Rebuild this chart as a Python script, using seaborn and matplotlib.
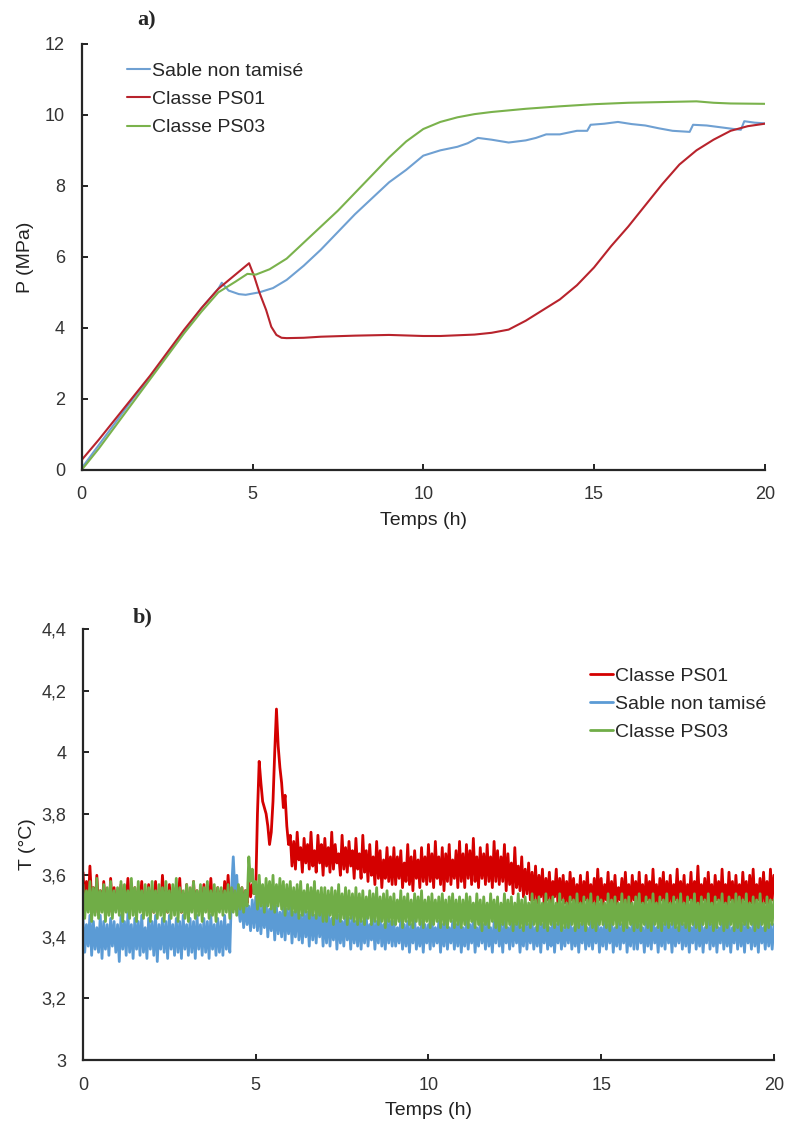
import numpy as np
import matplotlib
matplotlib.use("Agg")
import matplotlib.pyplot as plt
import seaborn as sns

# ---- a) pressure curves (h, MPa)
sable_t = [0, 0.5, 1, 1.5, 2, 2.5, 3, 3.5, 4, 4.1, 4.3, 4.6, 4.8, 5.2, 5.6, 6, 6.5, 7, 7.5, 8,
           8.5, 9, 9.5, 10, 10.5, 11, 11.3, 11.6, 12, 12.5, 13, 13.3, 13.6, 14, 14.5, 14.8, 14.9,
           15.3, 15.7, 16.1, 16.5, 16.9, 17.3, 17.8, 17.9, 18.3, 18.7, 19.1, 19.3, 19.4, 19.7, 20]
sable_p = [0.05, 0.7, 1.35, 2.0, 2.6, 3.25, 3.9, 4.55, 5.1, 5.27, 5.05, 4.95, 4.93, 5.0, 5.12,
           5.35, 5.75, 6.2, 6.7, 7.2, 7.65, 8.1, 8.45, 8.85, 9.0, 9.1, 9.2, 9.35, 9.3, 9.22, 9.28,
           9.35, 9.45, 9.45, 9.55, 9.55, 9.72, 9.75, 9.8, 9.74, 9.7, 9.62, 9.55, 9.52, 9.72, 9.7,
           9.65, 9.6, 9.58, 9.82, 9.78, 9.76]

ps01_t = [0, 0.5, 1, 1.5, 2, 2.5, 3, 3.5, 4, 4.5, 4.9, 5.05, 5.2, 5.4, 5.55, 5.7, 5.85, 6, 6.5,
          7, 8, 9, 10, 10.5, 11, 11.5, 12, 12.5, 13, 13.5, 14, 14.5, 15, 15.5, 16, 16.5, 17,
          17.5, 18, 18.5, 19, 19.5, 20]
ps01_p = [0.28, 0.85, 1.45, 2.05, 2.65, 3.3, 3.95, 4.55, 5.1, 5.5, 5.82, 5.45, 5.0, 4.5, 4.03,
          3.8, 3.72, 3.71, 3.72, 3.75, 3.78, 3.8, 3.77, 3.77, 3.79, 3.81, 3.86, 3.95, 4.2, 4.5,
          4.8, 5.2, 5.7, 6.3, 6.85, 7.45, 8.05, 8.6, 9.0, 9.3, 9.55, 9.68, 9.75]

ps03_t = [0, 0.5, 1, 1.5, 2, 2.5, 3, 3.5, 4, 4.5, 4.85, 5.1, 5.5, 6, 6.5, 7, 7.5, 8, 8.5, 9,
          9.5, 10, 10.5, 11, 11.5, 12, 13, 14, 15, 16, 17, 17.5, 18, 18.5, 19, 20]
ps03_p = [0.0, 0.6, 1.25, 1.9, 2.55, 3.2, 3.85, 4.45, 5.0, 5.3, 5.52, 5.5, 5.65, 5.95, 6.4,
          6.85, 7.3, 7.8, 8.3, 8.8, 9.25, 9.6, 9.8, 9.93, 10.02, 10.08, 10.17, 10.24, 10.3,
          10.34, 10.36, 10.37, 10.38, 10.34, 10.32, 10.31]

# ---- b) temperature, one reading every 0.05 h (°C), one row per hour
temp_t = np.round(np.arange(0, 20.001, 0.05), 2)

temp_ps01 = [
    3.61, 3.51, 3.58, 3.49, 3.63, 3.52, 3.56, 3.48, 3.60, 3.50, 3.55, 3.49, 3.58, 3.51, 3.54, 3.48, 3.59, 3.50, 3.56, 3.49,
    3.54, 3.50, 3.57, 3.48, 3.55, 3.51, 3.59, 3.49, 3.53, 3.50, 3.56, 3.48, 3.55, 3.51, 3.58, 3.49, 3.54, 3.50, 3.57, 3.49,
    3.55, 3.48, 3.58, 3.50, 3.54, 3.49, 3.60, 3.51, 3.55, 3.48, 3.57, 3.50, 3.53, 3.49, 3.56, 3.51, 3.59, 3.48, 3.54, 3.50,
    3.57, 3.49, 3.54, 3.51, 3.58, 3.48, 3.55, 3.50, 3.53, 3.49, 3.57, 3.51, 3.55, 3.48, 3.59, 3.50, 3.54, 3.49, 3.56, 3.51,
    3.55, 3.49, 3.58, 3.50, 3.60, 3.51, 3.55, 3.49, 3.57, 3.52, 3.54, 3.50, 3.56, 3.48, 3.55, 3.51, 3.58, 3.53, 3.57, 3.54,
    3.55, 3.80, 3.97, 3.90, 3.84, 3.82, 3.80, 3.76, 3.70, 3.74, 3.84, 4.00, 4.14, 4.02, 3.95, 3.90, 3.82, 3.86, 3.76, 3.70,
    3.73, 3.63, 3.71, 3.62, 3.74, 3.65, 3.69, 3.61, 3.72, 3.64, 3.70, 3.62, 3.74, 3.63, 3.68, 3.61, 3.73, 3.64, 3.70, 3.60,
    3.72, 3.63, 3.69, 3.61, 3.74, 3.62, 3.70, 3.64, 3.67, 3.60, 3.73, 3.62, 3.69, 3.61, 3.71, 3.63, 3.68, 3.59, 3.72, 3.62,
    3.67, 3.59, 3.73, 3.61, 3.68, 3.58, 3.70, 3.60, 3.66, 3.57, 3.71, 3.59, 3.68, 3.56, 3.65, 3.59, 3.69, 3.58, 3.66, 3.57,
    3.69, 3.57, 3.66, 3.59, 3.68, 3.56, 3.64, 3.58, 3.70, 3.57, 3.66, 3.55, 3.68, 3.59, 3.65, 3.56, 3.69, 3.58, 3.66, 3.57,
    3.70, 3.58, 3.67, 3.56, 3.71, 3.59, 3.66, 3.57, 3.69, 3.55, 3.67, 3.58, 3.70, 3.57, 3.65, 3.59, 3.68, 3.56, 3.71, 3.58,
    3.67, 3.56, 3.70, 3.59, 3.68, 3.57, 3.72, 3.58, 3.66, 3.56, 3.69, 3.59, 3.67, 3.57, 3.70, 3.58, 3.66, 3.56, 3.71, 3.58,
    3.68, 3.57, 3.66, 3.58, 3.70, 3.55, 3.67, 3.57, 3.64, 3.54, 3.69, 3.56, 3.63, 3.55, 3.66, 3.53, 3.62, 3.54, 3.64, 3.52,
    3.61, 3.52, 3.63, 3.51, 3.60, 3.53, 3.62, 3.50, 3.59, 3.52, 3.61, 3.51, 3.58, 3.53, 3.62, 3.50, 3.59, 3.52, 3.60, 3.51,
    3.58, 3.50, 3.61, 3.52, 3.59, 3.50, 3.57, 3.51, 3.60, 3.49, 3.58, 3.52, 3.61, 3.50, 3.57, 3.51, 3.59, 3.50, 3.62, 3.52,
    3.59, 3.50, 3.57, 3.52, 3.61, 3.49, 3.58, 3.51, 3.60, 3.50, 3.56, 3.52, 3.59, 3.50, 3.61, 3.51, 3.57, 3.49, 3.60, 3.52,
    3.58, 3.50, 3.61, 3.51, 3.57, 3.49, 3.60, 3.52, 3.58, 3.50, 3.62, 3.51, 3.57, 3.50, 3.59, 3.52, 3.61, 3.49, 3.58, 3.51,
    3.60, 3.50, 3.57, 3.52, 3.62, 3.50, 3.58, 3.51, 3.60, 3.49, 3.57, 3.52, 3.61, 3.50, 3.58, 3.51, 3.63, 3.50, 3.57, 3.52,
    3.59, 3.50, 3.61, 3.51, 3.57, 3.49, 3.60, 3.52, 3.58, 3.50, 3.62, 3.51, 3.57, 3.50, 3.61, 3.52, 3.58, 3.49, 3.60, 3.51,
    3.57, 3.50, 3.61, 3.52, 3.58, 3.49, 3.60, 3.51, 3.62, 3.50, 3.57, 3.52, 3.59, 3.50, 3.61, 3.51, 3.58, 3.49, 3.62, 3.52,
    3.60]

temp_sable = [
    3.46, 3.35, 3.44, 3.37, 3.47, 3.34, 3.45, 3.36, 3.43, 3.35, 3.47, 3.33, 3.45, 3.36, 3.44, 3.34, 3.46, 3.37, 3.45, 3.35,
    3.44, 3.32, 3.47, 3.36, 3.45, 3.34, 3.48, 3.35, 3.44, 3.33, 3.46, 3.36, 3.45, 3.34, 3.47, 3.35, 3.43, 3.33, 3.46, 3.36,
    3.45, 3.34, 3.47, 3.32, 3.44, 3.36, 3.46, 3.35, 3.45, 3.33, 3.47, 3.36, 3.44, 3.34, 3.46, 3.35, 3.45, 3.33, 3.47, 3.36,
    3.44, 3.34, 3.46, 3.35, 3.45, 3.33, 3.47, 3.36, 3.44, 3.34, 3.46, 3.35, 3.45, 3.33, 3.47, 3.36, 3.44, 3.34, 3.46, 3.35,
    3.45, 3.34, 3.47, 3.36, 3.44, 3.35, 3.55, 3.66, 3.54, 3.60, 3.50, 3.45, 3.52, 3.43, 3.51, 3.44, 3.50, 3.42, 3.52, 3.43,
    3.53, 3.42, 3.51, 3.41, 3.50, 3.43, 3.52, 3.40, 3.49, 3.42, 3.51, 3.39, 3.50, 3.41, 3.48, 3.40, 3.51, 3.39, 3.49, 3.41,
    3.50, 3.38, 3.48, 3.40, 3.51, 3.39, 3.47, 3.38, 3.49, 3.40, 3.48, 3.37, 3.50, 3.39, 3.47, 3.38, 3.49, 3.40, 3.48, 3.37,
    3.47, 3.38, 3.49, 3.37, 3.46, 3.39, 3.48, 3.36, 3.47, 3.38, 3.45, 3.37, 3.48, 3.39, 3.46, 3.36, 3.47, 3.38, 3.45, 3.37,
    3.47, 3.36, 3.45, 3.38, 3.47, 3.37, 3.44, 3.39, 3.46, 3.36, 3.45, 3.38, 3.47, 3.37, 3.44, 3.36, 3.46, 3.38, 3.45, 3.37,
    3.45, 3.37, 3.43, 3.38, 3.46, 3.36, 3.44, 3.37, 3.45, 3.35, 3.44, 3.38, 3.46, 3.36, 3.43, 3.37, 3.45, 3.35, 3.44, 3.38,
    3.44, 3.36, 3.46, 3.37, 3.43, 3.38, 3.45, 3.35, 3.44, 3.37, 3.46, 3.36, 3.43, 3.38, 3.45, 3.36, 3.44, 3.37, 3.46, 3.35,
    3.43, 3.37, 3.45, 3.36, 3.44, 3.38, 3.46, 3.35, 3.43, 3.37, 3.45, 3.38, 3.44, 3.36, 3.46, 3.37, 3.43, 3.35, 3.45, 3.38,
    3.46, 3.37, 3.44, 3.35, 3.45, 3.38, 3.43, 3.36, 3.46, 3.37, 3.44, 3.38, 3.45, 3.35, 3.43, 3.37, 3.46, 3.36, 3.44, 3.38,
    3.45, 3.36, 3.43, 3.37, 3.46, 3.35, 3.44, 3.38, 3.45, 3.36, 3.43, 3.37, 3.47, 3.35, 3.44, 3.38, 3.45, 3.36, 3.43, 3.37,
    3.44, 3.38, 3.46, 3.36, 3.43, 3.37, 3.45, 3.35, 3.44, 3.38, 3.46, 3.36, 3.43, 3.37, 3.45, 3.36, 3.44, 3.38, 3.46, 3.35,
    3.43, 3.37, 3.45, 3.36, 3.44, 3.38, 3.46, 3.35, 3.43, 3.37, 3.45, 3.36, 3.44, 3.38, 3.46, 3.35, 3.43, 3.37, 3.45, 3.36,
    3.46, 3.36, 3.44, 3.38, 3.43, 3.35, 3.45, 3.37, 3.44, 3.36, 3.46, 3.38, 3.43, 3.35, 3.45, 3.37, 3.44, 3.36, 3.46, 3.38,
    3.44, 3.35, 3.45, 3.37, 3.43, 3.38, 3.46, 3.36, 3.44, 3.37, 3.45, 3.35, 3.43, 3.38, 3.46, 3.36, 3.44, 3.37, 3.45, 3.35,
    3.43, 3.38, 3.46, 3.36, 3.44, 3.37, 3.45, 3.35, 3.43, 3.38, 3.46, 3.36, 3.44, 3.37, 3.45, 3.35, 3.43, 3.38, 3.46, 3.36,
    3.45, 3.37, 3.44, 3.35, 3.46, 3.38, 3.43, 3.36, 3.45, 3.37, 3.44, 3.35, 3.46, 3.38, 3.43, 3.36, 3.45, 3.37, 3.44, 3.36,
    3.44]

temp_ps03 = [
    3.57, 3.46, 3.55, 3.48, 3.58, 3.45, 3.56, 3.47, 3.59, 3.46, 3.55, 3.48, 3.57, 3.45, 3.56, 3.47, 3.58, 3.46, 3.55, 3.48,
    3.56, 3.47, 3.58, 3.45, 3.57, 3.48, 3.55, 3.46, 3.59, 3.47, 3.56, 3.45, 3.58, 3.48, 3.55, 3.46, 3.57, 3.47, 3.56, 3.45,
    3.58, 3.48, 3.55, 3.46, 3.57, 3.47, 3.56, 3.45, 3.58, 3.48, 3.55, 3.46, 3.57, 3.47, 3.59, 3.45, 3.56, 3.48, 3.55, 3.46,
    3.57, 3.45, 3.56, 3.48, 3.58, 3.46, 3.55, 3.47, 3.57, 3.45, 3.56, 3.48, 3.58, 3.46, 3.55, 3.47, 3.57, 3.45, 3.56, 3.48,
    3.56, 3.47, 3.55, 3.48, 3.57, 3.46, 3.56, 3.48, 3.55, 3.47, 3.57, 3.49, 3.56, 3.48, 3.55, 3.50, 3.66, 3.58, 3.62, 3.54,
    3.58, 3.49, 3.60, 3.50, 3.57, 3.48, 3.59, 3.50, 3.58, 3.49, 3.60, 3.48, 3.57, 3.50, 3.59, 3.49, 3.58, 3.47, 3.57, 3.49,
    3.58, 3.47, 3.56, 3.48, 3.57, 3.46, 3.58, 3.47, 3.55, 3.48, 3.57, 3.46, 3.56, 3.47, 3.58, 3.46, 3.55, 3.47, 3.56, 3.45,
    3.56, 3.45, 3.55, 3.47, 3.56, 3.44, 3.55, 3.46, 3.57, 3.45, 3.54, 3.46, 3.56, 3.44, 3.55, 3.46, 3.54, 3.45, 3.56, 3.44,
    3.54, 3.45, 3.55, 3.44, 3.53, 3.46, 3.55, 3.44, 3.54, 3.45, 3.56, 3.44, 3.53, 3.45, 3.54, 3.43, 3.55, 3.45, 3.53, 3.44,
    3.54, 3.44, 3.52, 3.45, 3.55, 3.43, 3.53, 3.45, 3.54, 3.44, 3.52, 3.43, 3.54, 3.45, 3.53, 3.44, 3.55, 3.43, 3.52, 3.45,
    3.53, 3.43, 3.54, 3.44, 3.52, 3.45, 3.53, 3.43, 3.54, 3.44, 3.52, 3.43, 3.53, 3.45, 3.54, 3.43, 3.52, 3.44, 3.53, 3.43,
    3.52, 3.44, 3.54, 3.43, 3.53, 3.45, 3.51, 3.43, 3.54, 3.44, 3.52, 3.42, 3.53, 3.44, 3.51, 3.43, 3.54, 3.45, 3.52, 3.43,
    3.53, 3.42, 3.51, 3.44, 3.54, 3.43, 3.52, 3.44, 3.53, 3.42, 3.51, 3.44, 3.54, 3.43, 3.52, 3.42, 3.53, 3.44, 3.51, 3.43,
    3.54, 3.44, 3.52, 3.42, 3.53, 3.44, 3.51, 3.43, 3.54, 3.42, 3.52, 3.44, 3.53, 3.43, 3.51, 3.44, 3.54, 3.42, 3.52, 3.43,
    3.51, 3.43, 3.53, 3.44, 3.52, 3.42, 3.54, 3.43, 3.51, 3.44, 3.53, 3.42, 3.52, 3.44, 3.54, 3.43, 3.51, 3.42, 3.53, 3.44,
    3.52, 3.44, 3.51, 3.43, 3.54, 3.42, 3.52, 3.44, 3.53, 3.43, 3.51, 3.44, 3.54, 3.42, 3.52, 3.43, 3.53, 3.44, 3.51, 3.42,
    3.53, 3.43, 3.54, 3.42, 3.51, 3.44, 3.53, 3.43, 3.52, 3.42, 3.54, 3.44, 3.51, 3.43, 3.53, 3.42, 3.52, 3.44, 3.54, 3.43,
    3.51, 3.44, 3.53, 3.43, 3.52, 3.42, 3.54, 3.44, 3.51, 3.43, 3.53, 3.42, 3.52, 3.44, 3.54, 3.43, 3.51, 3.42, 3.53, 3.44,
    3.52, 3.43, 3.54, 3.44, 3.51, 3.42, 3.53, 3.43, 3.52, 3.44, 3.54, 3.42, 3.51, 3.43, 3.53, 3.44, 3.52, 3.42, 3.54, 3.43,
    3.53, 3.42, 3.52, 3.44, 3.54, 3.43, 3.51, 3.44, 3.53, 3.42, 3.52, 3.43, 3.54, 3.44, 3.51, 3.42, 3.53, 3.43, 3.52, 3.44,
    3.52]

x_ticks = [0, 5, 10, 15, 20]
p_ticks = [0, 2, 4, 6, 8, 10, 12]
t_ticks = [3.0, 3.2, 3.4, 3.6, 3.8, 4.0, 4.2, 4.4]
t_ticklabels = ["3", "3,2", "3,4", "3,6", "3,8", "4", "4,2", "4,4"]

sns.set_style("ticks")
plt.rcParams["font.family"] = ["Liberation Sans", "DejaVu Sans"]
plt.rcParams["font.size"] = 13

fig = plt.figure(figsize=(7.86, 11.24), dpi=100)
ax1 = fig.add_axes([0.104, 0.582, 0.869, 0.379])
ax2 = fig.add_axes([0.1056, 0.0569, 0.879, 0.3835])

# a)
sns.lineplot(x=sable_t, y=sable_p, ax=ax1, color="#6fa0d2", lw=1.5, label="Sable non tamisé")
sns.lineplot(x=ps01_t, y=ps01_p, ax=ax1, color="#b8232c", lw=1.5, label="Classe PS01")
sns.lineplot(x=ps03_t, y=ps03_p, ax=ax1, color="#7ab24c", lw=1.5, label="Classe PS03")
ax1.set_xlim(0, 20)
ax1.set_ylim(0, 12)
ax1.set_xticks(x_ticks)
ax1.set_yticks(p_ticks)
ax1.set_xlabel("Temps (h)", fontsize=14, labelpad=6)
ax1.set_ylabel("P (MPa)", fontsize=14, labelpad=8)
ax1.legend(loc="upper left", bbox_to_anchor=(0.055, 0.975), frameon=False, fontsize=14,
           handlelength=1.2, handletextpad=0.1, labelspacing=0.55, borderaxespad=0)

# b)
sns.lineplot(x=temp_t, y=temp_ps01, ax=ax2, color="#d40000", lw=2.0, label="Classe PS01")
sns.lineplot(x=temp_t, y=temp_sable, ax=ax2, color="#5b9bd5", lw=2.0, label="Sable non tamisé")
sns.lineplot(x=temp_t, y=temp_ps03, ax=ax2, color="#70ad47", lw=2.0, label="Classe PS03")
ax2.set_xlim(0, 20)
ax2.set_ylim(3, 4.4)
ax2.set_xticks(x_ticks)
ax2.set_yticks(t_ticks)
ax2.set_yticklabels(t_ticklabels)
ax2.set_xlabel("Temps (h)", fontsize=14, labelpad=6)
ax2.set_ylabel("T (°C)", fontsize=14, labelpad=4)
leg = ax2.legend(loc="upper right", bbox_to_anchor=(1.0, 0.93), frameon=False, fontsize=14,
                 handlelength=1.2, handletextpad=0.1, labelspacing=0.55, borderaxespad=0)
for h in leg.get_lines():
    h.set_linewidth(2.0)

for ax in (ax1, ax2):
    sns.despine(ax=ax)
    ax.spines["left"].set_linewidth(1.6)
    ax.spines["bottom"].set_linewidth(1.6)
    ax.tick_params(direction="in", length=4, width=1.4, pad=12, colors="#222222",
                   labelcolor="#333333", labelsize=13)
    ax.xaxis.label.set_color("#222222")
    ax.yaxis.label.set_color("#222222")

fig.text(0.187, 0.982, "a)", family="Liberation Serif", weight="bold", fontsize=16, ha="center", va="center")
fig.text(0.181, 0.451, "b)", family="Liberation Serif", weight="bold", fontsize=16, ha="center", va="center")

fig.savefig("out.png", dpi=100)
